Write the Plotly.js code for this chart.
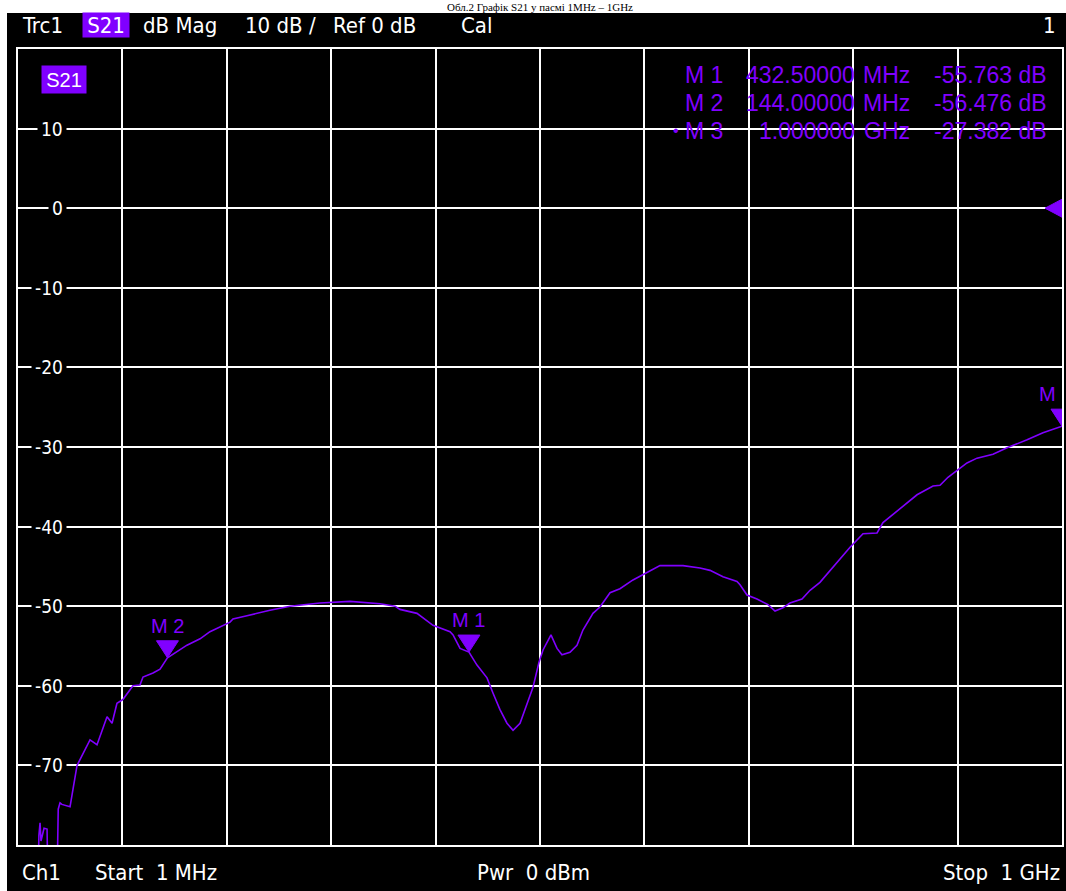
<!DOCTYPE html>
<html>
<head>
<meta charset="utf-8">
<script src="https://cdn.plot.ly/plotly-3.0.1.min.js"></script>
<style>html,body{margin:0;padding:0;background:#fff;}#chart{width:1066px;height:891px;}</style>
</head>
<body>
<div id="chart"></div>
<script>
// ---- data (frequency in MHz, magnitude in dB) ----
const freqMHz = [1, 20, 21, 22.1, 23, 25.9, 28.8, 29.7, 38.3, 39.5, 41.2, 43, 50.8, 51.7, 53.6, 57.5,
  69.9, 76.6, 86.2, 91.0, 95.7, 101.5, 111.0, 117.7, 120.6, 130.2, 136.9, 144.0, 156.0, 162.7, 175.2,
  184.7, 203.9, 206.7, 220.1, 242.1, 261.3, 290.0, 318.7, 347.4, 361.8, 366.5, 382.8, 398.1, 414.4,
  417.3, 424.0, 432.5, 440.2, 449.8, 455.5, 462.2, 468.9, 474.7, 481.4, 488.1, 493.8, 499.6, 503.4,
  511.0, 516.8, 521.5, 529.2, 535.9, 541.6, 551.2, 557.9, 567.5, 577.0, 589.5, 602.9, 615.3, 637.3,
  653.6, 663.2, 675.6, 689.0, 691.9, 698.6, 708.1, 718.7, 725.4, 733.0, 739.7, 751.2, 758.9, 768.4,
  780.9, 787.6, 797.2, 809.6, 823.0, 828.7, 845.0, 861.3, 876.6, 883.3, 890.9, 899.5, 909.1, 918.7,
  934.0, 947.4, 966.6, 981.8, 1000];
const s21dB = [-90, -86, -78.8, -77.2, -79.5, -77.9, -78.0, -85, -85, -75.5, -74.7, -74.9, -75.2, -74.4, -73.0, -70.0,
  -66.8, -67.4, -63.9, -64.7, -62.2, -61.7, -60.0, -59.9, -58.9, -58.4, -57.9, -56.476, -55.5, -54.9, -54.1,
  -53.2, -52.0, -51.6, -51.2, -50.5, -50.0, -49.6, -49.4, -49.7, -50.0, -50.4, -50.9, -52.4, -53.2,
  -53.6, -55.3, -55.763, -57.4, -59.0, -60.9, -63.0, -64.7, -65.6, -64.7, -62.4, -60.2, -57.0, -55.5,
  -53.6, -55.3, -56.1, -55.8, -54.9, -53.0, -50.9, -50.1, -48.3, -47.8, -46.7, -45.8, -44.9, -44.9,
  -45.2, -45.5, -46.3, -46.9, -47.3, -48.6, -49.1, -49.8, -50.6, -50.2, -49.6, -49.1, -48.0, -47.0,
  -45.1, -44.1, -42.6, -40.9, -40.8, -39.5, -37.7, -36.0, -34.9, -34.8, -33.8, -32.9, -32.0, -31.4,
  -30.9, -30.1, -29.1, -28.2, -27.382];

const markerNames = ["M 1", "M 2", "M 3"];
const markerFreqNum = ["432.50000", "144.00000", "1.000000"];
const markerFreqUnit = ["MHz", "MHz", "GHz"];
const markerFreq = [432.5, 144.0, 1000];
const markerDb = [-55.763, -56.476, -27.382];
const markerDbText = ["-55.763 dB", "-56.476 dB", "-27.382 dB"];
const markerPlotLabels = ["M 1", "M 2", "M"];

const yTickVals = [10, 0, -10, -20, -30, -40, -50, -60, -70];
const yTickText = ["10", "0", "-10", "-20", "-30", "-40", "-50", "-60", "-70"];

const headerItems = ["Trc1", "S21", "dB Mag", "10 dB /", "Ref 0 dB", "Cal", "1"];
const footerItems = ["Ch1", "Start  1 MHz", "Pwr  0 dBm", "Stop  1 GHz"];
const titleText = "Обл.2 Графік S21 у пасмі 1MHz – 1GHz";

// ---- layout helpers (pixel -> paper) ----
const L = 18, R = 1062, T = 49, B = 845;
const px = x => (x - L) / (R - L);
const py = y => (B - y) / (B - T);
const PURPLE = "#8000ff";
const NARROW = "Liberation Sans Narrow, Arial Narrow, DejaVu Sans Condensed, Liberation Sans, sans-serif";
const REG = "Liberation Sans, Arial, sans-serif";

const annotations = [];
const shapes = [];

// white page strips
shapes.push({type: "rect", xref: "paper", yref: "paper", x0: px(0), x1: px(7), y0: py(891), y1: py(0),
  fillcolor: "#fff", line: {width: 0}, layer: "below"});
shapes.push({type: "rect", xref: "paper", yref: "paper", x0: px(0), x1: px(1066), y0: py(13), y1: py(0),
  fillcolor: "#fff", line: {width: 0}, layer: "below"});

// caption in the white strip at the very top
annotations.push({xref: "paper", yref: "paper", x: px(540), y: py(6.5), xanchor: "center", yanchor: "middle",
  text: titleText, showarrow: false, font: {family: "Liberation Serif, serif", size: 11, color: "#000"}});

// header
const hx = [20, 82, 141, 243, 331, 459, 1058];
headerItems.forEach((t, i) => {
  const a = {xref: "paper", yref: "paper", x: px(hx[i]), y: py(25), xanchor: i === 6 ? "right" : "left",
    yanchor: "middle", text: t, showarrow: false, font: {family: NARROW, size: 22, color: "#fff"}};
  if (i === 1) { a.bgcolor = PURPLE; a.width = 46; a.height = 24; a.borderpad = 0; a.align = "center"; a.x = px(82); }
  annotations.push(a);
});

// S21 box inside plot
annotations.push({xref: "paper", yref: "paper", x: px(41), y: py(79.5), xanchor: "left", yanchor: "middle",
  text: "S21", showarrow: false, bgcolor: PURPLE, width: 44, height: 27, borderpad: 0,
  font: {family: REG, size: 20, color: "#fff"}});

// marker table
const rowY = [75, 103, 131];
markerNames.forEach((m, i) => {
  const f = {family: REG, size: 23, color: PURPLE};
  annotations.push({xref: "paper", yref: "paper", x: px(683), y: py(rowY[i]), xanchor: "left", yanchor: "middle",
    text: m, showarrow: false, font: f});
  annotations.push({xref: "paper", yref: "paper", x: px(857), y: py(rowY[i]), xanchor: "right", yanchor: "middle",
    text: markerFreqNum[i], showarrow: false, font: f});
  annotations.push({xref: "paper", yref: "paper", x: px(912), y: py(rowY[i]), xanchor: "right", yanchor: "middle",
    text: markerFreqUnit[i], showarrow: false, font: f});
  annotations.push({xref: "paper", yref: "paper", x: px(1049), y: py(rowY[i]), xanchor: "right", yanchor: "middle",
    text: markerDbText[i], showarrow: false, font: f});
});
annotations.push({xref: "paper", yref: "paper", x: px(681), y: py(131), xanchor: "right", yanchor: "middle",
  text: "•", showarrow: false, font: {family: REG, size: 16, color: PURPLE}});

// y tick labels over the grid lines
yTickVals.forEach((v, i) => {
  annotations.push({xref: "paper", yref: "y", x: px(67), y: v, xanchor: "right", yanchor: "middle",
    text: yTickText[i], showarrow: false, bgcolor: "#000", borderpad: 3,
    font: {family: NARROW, size: 19, color: "#fff"}});
});

// footer
const fx = [20, 93, 475, 1062];
footerItems.forEach((t, i) => {
  annotations.push({xref: "paper", yref: "paper", x: px(fx[i]), y: py(872), xanchor: i === 3 ? "right" : "left",
    yanchor: "middle", text: t.replace(/  /g, " &nbsp;"), showarrow: false,
    font: {family: NARROW, size: 22, color: "#fff"}});
});

// marker triangles and labels
markerFreq.forEach((f, i) => {
  shapes.push({type: "path", xref: "x", yref: "y", xsizemode: "pixel", ysizemode: "pixel",
    xanchor: f, yanchor: markerDb[i], path: "M-11,17 L11,17 L0,0 Z",
    fillcolor: PURPLE, line: {color: PURPLE, width: 1}, layer: "above"});
  annotations.push({xref: "x", yref: "y", x: f, y: markerDb[i], xanchor: i === 2 ? "right" : "center",
    xshift: i === 2 ? -4 : 0, yshift: 32, yanchor: "middle", text: markerPlotLabels[i], showarrow: false,
    font: {family: REG, size: 20, color: PURPLE}});
});

// reference level marker at 0 dB
shapes.push({type: "path", xref: "x", yref: "y", xsizemode: "pixel", ysizemode: "pixel",
  xanchor: 1000, yanchor: 0, path: "M0,-9 L0,9 L-17,0 Z",
  fillcolor: PURPLE, line: {color: PURPLE, width: 1}, layer: "above"});

const trace = {x: freqMHz, y: s21dB, type: "scatter", mode: "lines",
  line: {color: PURPLE, width: 1.6}, hoverinfo: "skip"};

const layout = {
  width: 1066, height: 891,
  margin: {l: L, r: 1066 - R, t: T, b: 891 - B, pad: 0},
  paper_bgcolor: "#000", plot_bgcolor: "#000",
  showlegend: false,
  xaxis: {range: [1, 1000], tick0: 1, dtick: 99.9, showticklabels: false, ticks: "",
    showgrid: true, gridcolor: "#fff", gridwidth: 2, zeroline: false,
    showline: true, mirror: true, linecolor: "#fff", linewidth: 2, fixedrange: true},
  yaxis: {range: [-80, 20], tick0: -80, dtick: 10, showticklabels: false, ticks: "",
    showgrid: true, gridcolor: "#fff", gridwidth: 2, zeroline: false,
    showline: true, mirror: true, linecolor: "#fff", linewidth: 2, fixedrange: true},
  annotations: annotations,
  shapes: shapes
};

Plotly.newPlot("chart", [trace], layout, {displayModeBar: false, staticPlot: true});
</script>
</body>
</html>
